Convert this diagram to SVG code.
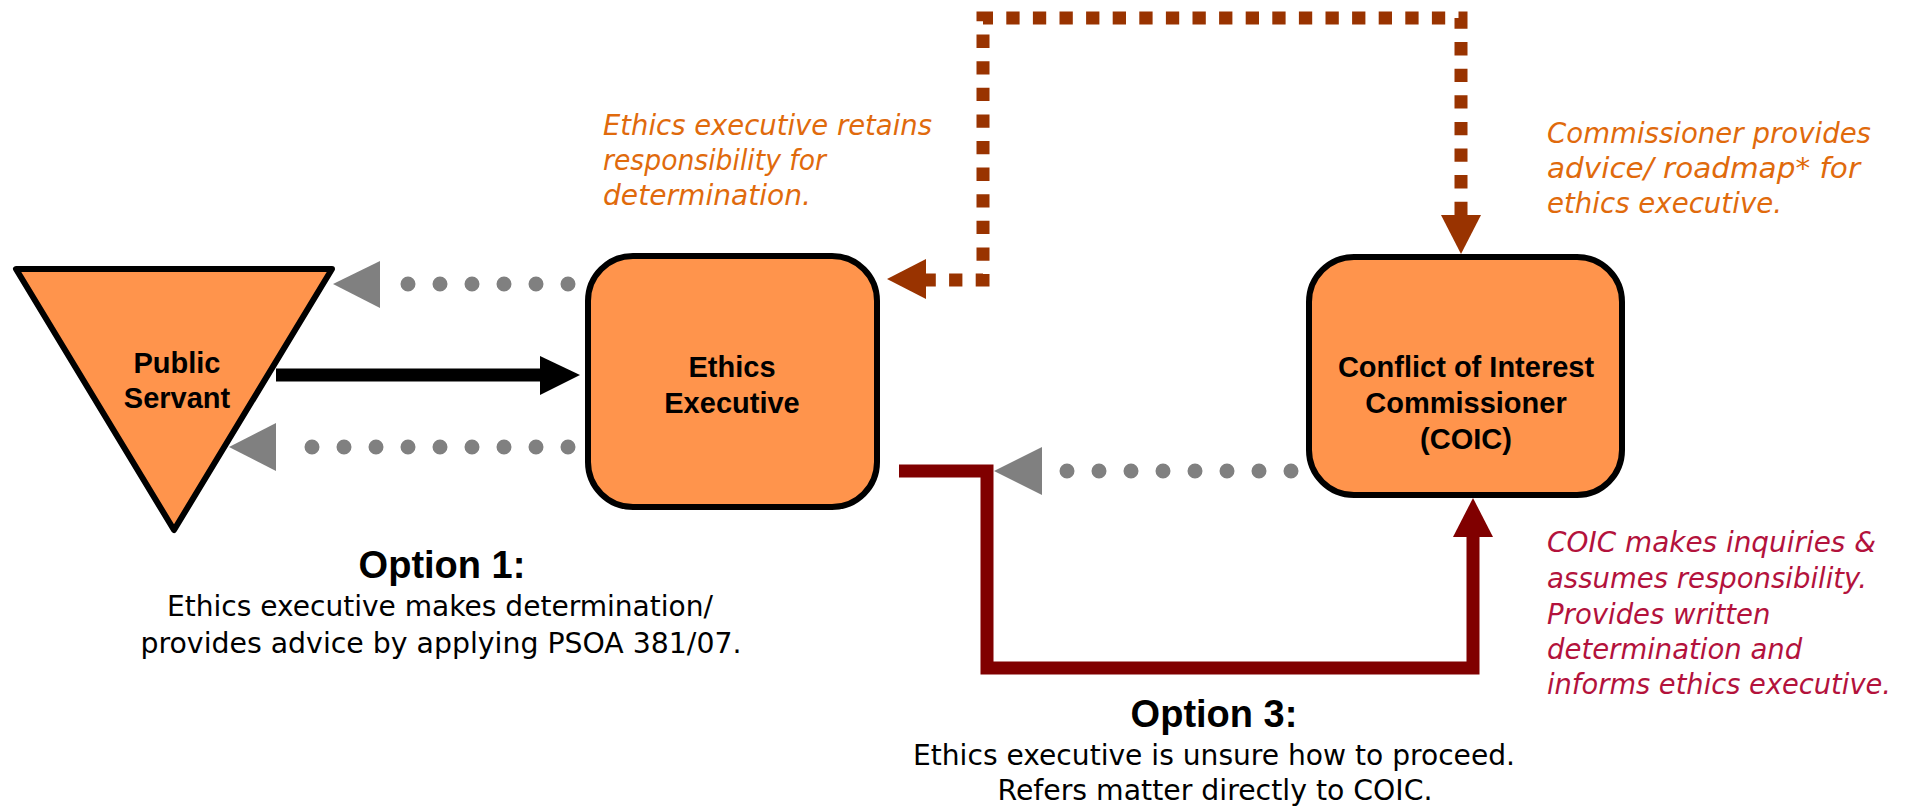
<svg xmlns="http://www.w3.org/2000/svg" width="1912" height="809" viewBox="0 0 1912 809">
<style>
.node{fill:#FF944C;stroke:#000;stroke-width:6;stroke-linejoin:round}
.lbl{font-family:"Liberation Sans",Arial,sans-serif;font-weight:bold;font-size:29px;fill:#000;text-anchor:middle}
.head{font-family:"Liberation Sans",Arial,sans-serif;font-weight:bold;font-size:38px;fill:#000;text-anchor:middle}
.body{font-family:"DejaVu Sans",sans-serif;font-size:27.5px;fill:#000;text-anchor:middle}
.note{font-family:"DejaVu Sans",sans-serif;font-style:italic;font-size:27.5px}
.orange{fill:#E06A0C}
.crimson{fill:#B3123C}
.dots{fill:none;stroke:#808080;stroke-width:15;stroke-linecap:round;stroke-dasharray:0 32}
.gray{fill:#808080}
</style>
<rect width="1912" height="809" fill="#fff"/>
<g id="connectors">
  <line class="dots" x1="568" y1="284" x2="380" y2="284"/>
  <polygon class="gray" points="333,284 380,261 380,308"/>
  <line class="dots" x1="568" y1="447" x2="280" y2="447"/>
  <polygon class="gray" points="229,447 276,423 276,471"/>
  <line x1="276" y1="375" x2="545" y2="375" stroke="#000" stroke-width="13"/>
  <polygon points="580,375 540,356 540,395" fill="#000"/>
  <line class="dots" x1="1291" y1="471" x2="1040" y2="471"/>
  <polygon class="gray" points="994,471 1042,447 1042,495"/>
  <path d="M 1461 215 V 18 H 983 V 280 H 926" fill="none" stroke="#993300" stroke-width="13" stroke-dasharray="13.3 13.3"/>
  <polygon points="1461,254 1441,215 1481,215" fill="#993300"/>
  <polygon points="887,279 926,259 926,299" fill="#993300"/>
  <path d="M 899 471 H 987 V 668 H 1473 V 535" fill="none" stroke="#800000" stroke-width="13"/>
  <polygon points="1473,498 1453,537 1493,537" fill="#800000"/>
</g>
<g id="public-servant">
  <polygon class="node" points="16,269 332,269 174,530"/>
  <text class="lbl" x="177" y="373">Public</text>
  <text class="lbl" x="177" y="408">Servant</text>
</g>
<g id="ethics-executive">
  <rect class="node" x="588" y="256" width="289" height="251" rx="45" ry="45"/>
  <text class="lbl" x="732" y="377">Ethics</text>
  <text class="lbl" x="732" y="413">Executive</text>
</g>
<g id="coic">
  <rect class="node" x="1309" y="257" width="313" height="238" rx="45" ry="45"/>
  <text class="lbl" x="1466" y="377">Conflict of Interest</text>
  <text class="lbl" x="1466" y="413">Commissioner</text>
  <text class="lbl" x="1466" y="449">(COIC)</text>
</g>
<g id="note-ethics-retains" class="note orange">
  <text x="603" y="135" textLength="329" lengthAdjust="spacingAndGlyphs">Ethics executive retains</text>
  <text x="603" y="170" textLength="223" lengthAdjust="spacingAndGlyphs">responsibility for</text>
  <text x="603" y="205" textLength="208" lengthAdjust="spacingAndGlyphs">determination.</text>
</g>
<g id="note-commissioner" class="note orange">
  <text x="1547" y="143" textLength="324" lengthAdjust="spacingAndGlyphs">Commissioner provides</text>
  <text x="1547" y="178" textLength="313" lengthAdjust="spacingAndGlyphs">advice/ roadmap* for</text>
  <text x="1547" y="213" textLength="235" lengthAdjust="spacingAndGlyphs">ethics executive.</text>
</g>
<g id="note-coic" class="note crimson">
  <text x="1547" y="552" textLength="329" lengthAdjust="spacingAndGlyphs">COIC makes inquiries &amp;</text>
  <text x="1547" y="588">assumes responsibility.</text>
  <text x="1547" y="624">Provides written</text>
  <text x="1547" y="659">determination and</text>
  <text x="1547" y="694" textLength="344" lengthAdjust="spacingAndGlyphs">informs ethics executive.</text>
</g>
<g id="option-1">
  <text class="head" x="442" y="578">Option 1:</text>
  <text class="body" x="440" y="616" textLength="546" lengthAdjust="spacingAndGlyphs">Ethics executive makes determination/</text>
  <text class="body" x="441" y="653" textLength="601" lengthAdjust="spacingAndGlyphs">provides advice by applying PSOA 381/07.</text>
</g>
<g id="option-3">
  <text class="head" x="1214" y="727">Option 3:</text>
  <text class="body" x="1214" y="765" textLength="602" lengthAdjust="spacingAndGlyphs">Ethics executive is unsure how to proceed.</text>
  <text class="body" x="1215" y="800" textLength="435" lengthAdjust="spacingAndGlyphs">Refers matter directly to COIC.</text>
</g>
</svg>
